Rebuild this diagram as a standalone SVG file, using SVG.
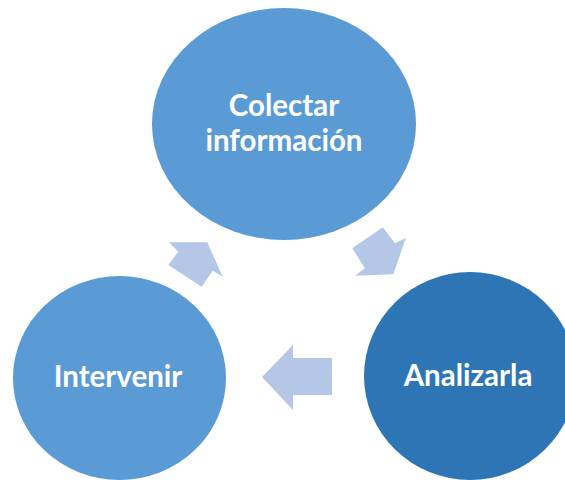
<svg xmlns="http://www.w3.org/2000/svg" width="565" height="480" viewBox="0 0 565 480">
  <style>
    .node { fill: #5B9BD5; }
    .node-dark { fill: #2E75B6; }
    .arrow { fill: #B4C7E7; }
    .label { font-family: Lato, "Liberation Sans", sans-serif; font-weight: bold; font-size: 29.5px; fill: #FFFFFF; text-anchor: middle; }
  </style>
  <rect width="565" height="480" fill="#FFFFFF"/>
  <g id="connectors">
    <polygon class="arrow" points="169,242.3 207.3,242.3 222.7,276.7 212.7,270.7 201.7,286.7 168.3,265 178.3,251.7"/>
    <polygon class="arrow" points="382.7,227.3 395,243.3 406,237.7 393.3,274.3 355,275.7 365,268.3 352.3,248.3"/>
    <polygon class="arrow" points="262,377 293,345 293,358 332,358 332,395 293,395 293,410"/>
  </g>
  <g id="node-colectar">
    <ellipse class="node" cx="284" cy="124" rx="132" ry="116"/>
    <text class="label" x="284" y="116">Colectar</text>
    <text class="label" x="284" y="151">información</text>
  </g>
  <g id="node-analizarla">
    <ellipse class="node-dark" cx="470" cy="376" rx="106" ry="104"/>
    <text class="label" x="468" y="386">Analizarla</text>
  </g>
  <g id="node-intervenir">
    <ellipse class="node" cx="119.5" cy="378" rx="106.5" ry="102"/>
    <text class="label" x="118" y="387">Intervenir</text>
  </g>
</svg>
